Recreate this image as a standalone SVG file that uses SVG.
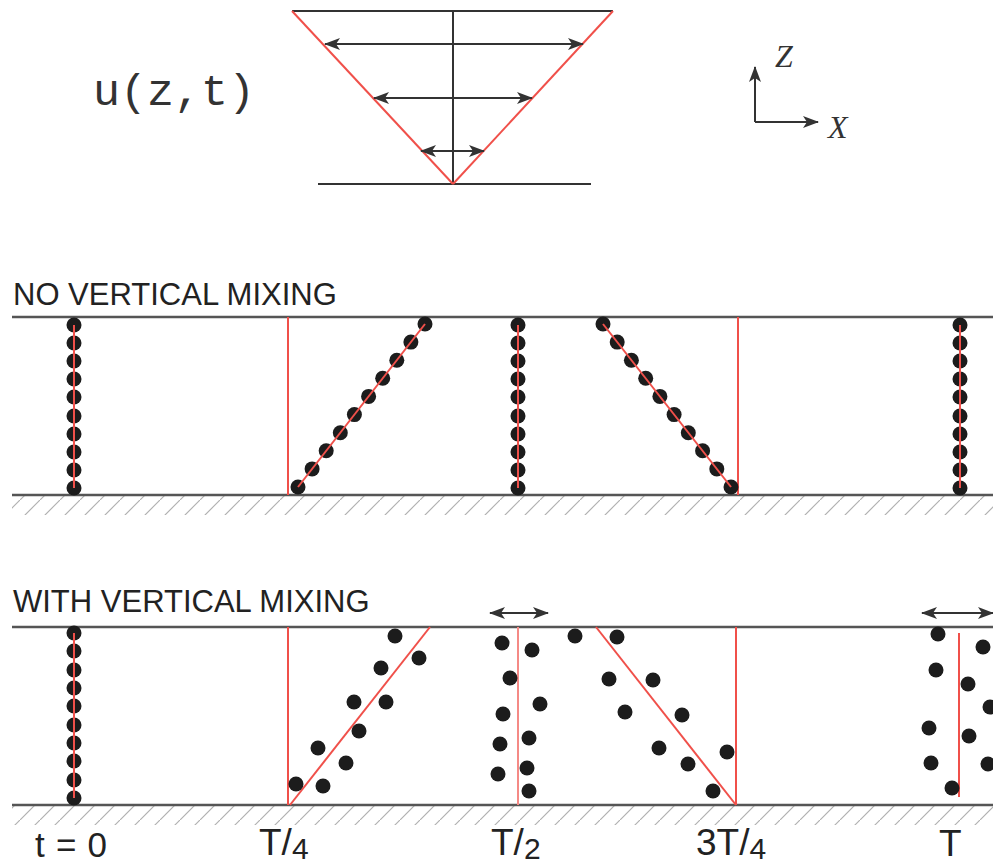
<svg xmlns="http://www.w3.org/2000/svg" width="993" height="867" viewBox="0 0 993 867">
<style>
.blk{stroke:#333;stroke-width:2;fill:none}
.bar{stroke:#555;stroke-width:2.5;fill:none}
.red{stroke:#f0504a;stroke-width:2;fill:none}
.redl{stroke:#f58a86;stroke-width:2;fill:none}
.d{fill:#1c1c1c}
.lab{font-family:"Liberation Sans",Arial,sans-serif;fill:#222}
.hdr{font-family:"Liberation Sans",Arial,sans-serif;font-size:31px;fill:#222}
.ax{font-family:"Liberation Serif","Times New Roman",serif;font-style:italic;font-size:32px;fill:#333}
</style>
<defs>
<marker id="ah" viewBox="0 0 16 12" refX="15" refY="6" markerWidth="16" markerHeight="12" markerUnits="userSpaceOnUse" orient="auto-start-reverse">
<path d="M0,0 L16,6 L0,12 L4,6 z" fill="#333"/>
</marker>
<pattern id="hatch" patternUnits="userSpaceOnUse" width="20" height="20">
<line x1="0" y1="20" x2="20" y2="0" stroke="#b0b0b0" stroke-width="1.2"/>
</pattern>
</defs>

<g id="velocity-profile">
<line class="blk" x1="292" y1="11" x2="613" y2="11"/>
<line class="blk" x1="453" y1="11" x2="453" y2="184"/>
<line class="blk" x1="318" y1="184" x2="591" y2="184"/>
<line class="red" x1="292" y1="11" x2="453" y2="184"/>
<line class="red" x1="613" y1="11" x2="453" y2="184"/>
<line class="blk" x1="325" y1="44" x2="583" y2="44" marker-start="url(#ah)" marker-end="url(#ah)"/>
<line class="blk" x1="374" y1="98" x2="532" y2="98" marker-start="url(#ah)" marker-end="url(#ah)"/>
<line class="blk" x1="421" y1="151" x2="484" y2="151" marker-start="url(#ah)" marker-end="url(#ah)"/>
<text x="93" y="105" font-family="Liberation Mono,'Courier New',monospace" font-size="45" fill="#333">u(z,t)</text>
</g>

<g id="axes">
<line class="blk" x1="755" y1="122" x2="755" y2="67" marker-end="url(#ah)"/>
<line class="blk" x1="755" y1="122" x2="818" y2="122" marker-end="url(#ah)"/>
<text class="ax" x="775" y="67">Z</text>
<text class="ax" x="828" y="138">X</text>
</g>

<g id="panel-no-mixing">
<text class="hdr" x="13" y="305">NO VERTICAL MIXING</text>
<line class="bar" x1="12" y1="317" x2="993" y2="317"/>
<rect x="12" y="496" width="981" height="19" fill="url(#hatch)"/>
<line class="bar" x1="12" y1="495" x2="993" y2="495"/>
<g id="n0">
<g class="d"><circle cx="74" cy="325" r="7.5"/><circle cx="74" cy="343" r="7.5"/><circle cx="74" cy="361" r="7.5"/><circle cx="74" cy="379" r="7.5"/><circle cx="74" cy="397" r="7.5"/><circle cx="74" cy="416" r="7.5"/><circle cx="74" cy="434" r="7.5"/><circle cx="74" cy="452" r="7.5"/><circle cx="74" cy="470" r="7.5"/><circle cx="74" cy="488" r="7.5"/></g>
<line class="red" x1="74" y1="325" x2="74" y2="488"/>
</g>
<g id="n1">
<line class="red" x1="288" y1="317" x2="288" y2="495"/>
<g class="d"><circle cx="298" cy="487" r="7.5"/><circle cx="312.1" cy="468.9" r="7.5"/><circle cx="326.2" cy="450.8" r="7.5"/><circle cx="340.3" cy="432.7" r="7.5"/><circle cx="354.4" cy="414.6" r="7.5"/><circle cx="368.6" cy="396.4" r="7.5"/><circle cx="382.7" cy="378.3" r="7.5"/><circle cx="396.8" cy="360.2" r="7.5"/><circle cx="410.9" cy="342.1" r="7.5"/><circle cx="425" cy="324" r="7.5"/></g>
<line class="red" x1="298" y1="487" x2="425" y2="324"/>
</g>
<g id="n2">
<g class="d"><circle cx="518" cy="325" r="7.5"/><circle cx="518" cy="343" r="7.5"/><circle cx="518" cy="361" r="7.5"/><circle cx="518" cy="379" r="7.5"/><circle cx="518" cy="397" r="7.5"/><circle cx="518" cy="416" r="7.5"/><circle cx="518" cy="434" r="7.5"/><circle cx="518" cy="452" r="7.5"/><circle cx="518" cy="470" r="7.5"/><circle cx="518" cy="488" r="7.5"/></g>
<line class="red" x1="518" y1="325" x2="518" y2="488"/>
</g>
<g id="n3">
<line class="red" x1="738" y1="317" x2="738" y2="495"/>
<g class="d"><circle cx="603" cy="324" r="7.5"/><circle cx="617.2" cy="342.1" r="7.5"/><circle cx="631.4" cy="360.2" r="7.5"/><circle cx="645.7" cy="378.3" r="7.5"/><circle cx="659.9" cy="396.4" r="7.5"/><circle cx="674.1" cy="414.6" r="7.5"/><circle cx="688.3" cy="432.7" r="7.5"/><circle cx="702.6" cy="450.8" r="7.5"/><circle cx="716.8" cy="468.9" r="7.5"/><circle cx="731" cy="487" r="7.5"/></g>
<line class="red" x1="603" y1="324" x2="731" y2="487"/>
</g>
<g id="n4">
<g class="d"><circle cx="960" cy="325" r="7.5"/><circle cx="960" cy="343" r="7.5"/><circle cx="960" cy="361" r="7.5"/><circle cx="960" cy="379" r="7.5"/><circle cx="960" cy="397" r="7.5"/><circle cx="960" cy="416" r="7.5"/><circle cx="960" cy="434" r="7.5"/><circle cx="960" cy="452" r="7.5"/><circle cx="960" cy="470" r="7.5"/><circle cx="960" cy="488" r="7.5"/></g>
<line class="red" x1="960" y1="325" x2="960" y2="488"/>
</g>
</g>

<g id="panel-with-mixing">
<text class="hdr" x="13" y="612">WITH VERTICAL MIXING</text>
<line class="bar" x1="12" y1="627" x2="993" y2="627"/>
<rect x="12" y="806" width="981" height="19" fill="url(#hatch)"/>
<line class="bar" x1="12" y1="805" x2="993" y2="805"/>
<g id="m0">
<g class="d"><circle cx="74" cy="633" r="7.5"/><circle cx="74" cy="651" r="7.5"/><circle cx="74" cy="670" r="7.5"/><circle cx="74" cy="688" r="7.5"/><circle cx="74" cy="706" r="7.5"/><circle cx="74" cy="725" r="7.5"/><circle cx="74" cy="743" r="7.5"/><circle cx="74" cy="761" r="7.5"/><circle cx="74" cy="780" r="7.5"/><circle cx="74" cy="798" r="7.5"/></g>
<line class="red" x1="74" y1="633" x2="74" y2="798"/>
</g>
<g id="m1">
<line class="red" x1="288" y1="627" x2="288" y2="805"/>
<line class="red" x1="290" y1="805" x2="430" y2="627"/>
<g class="d"><circle cx="395" cy="636" r="7.5"/><circle cx="419" cy="658" r="7.5"/><circle cx="381" cy="668" r="7.5"/><circle cx="354" cy="702" r="7.5"/><circle cx="386" cy="702" r="7.5"/><circle cx="359" cy="731" r="7.5"/><circle cx="318" cy="748" r="7.5"/><circle cx="346" cy="763" r="7.5"/><circle cx="296" cy="784" r="7.5"/><circle cx="323" cy="786" r="7.5"/></g>
</g>
<g id="m2">
<line class="blk" x1="490" y1="613" x2="548" y2="613" marker-start="url(#ah)" marker-end="url(#ah)"/>
<line class="redl" x1="518" y1="627" x2="518" y2="805"/>
<g class="d"><circle cx="502" cy="643" r="7.5"/><circle cx="532" cy="650" r="7.5"/><circle cx="510" cy="678" r="7.5"/><circle cx="540" cy="704" r="7.5"/><circle cx="503" cy="714" r="7.5"/><circle cx="529" cy="738" r="7.5"/><circle cx="500" cy="744" r="7.5"/><circle cx="527" cy="768" r="7.5"/><circle cx="498" cy="774" r="7.5"/><circle cx="529" cy="791" r="7.5"/></g>
</g>
<g id="m3">
<line class="red" x1="596" y1="627" x2="736" y2="805"/>
<line class="red" x1="736" y1="627" x2="736" y2="805"/>
<g class="d"><circle cx="575" cy="636" r="7.5"/><circle cx="617" cy="637" r="7.5"/><circle cx="609" cy="679" r="7.5"/><circle cx="653" cy="680" r="7.5"/><circle cx="625" cy="712" r="7.5"/><circle cx="682" cy="715" r="7.5"/><circle cx="659" cy="748" r="7.5"/><circle cx="727" cy="752" r="7.5"/><circle cx="688" cy="764" r="7.5"/><circle cx="713" cy="791" r="7.5"/></g>
</g>
<g id="m4">
<line class="blk" x1="922" y1="613" x2="993" y2="613" marker-start="url(#ah)" marker-end="url(#ah)"/>
<line class="red" x1="959" y1="633" x2="959" y2="797"/>
<g class="d"><circle cx="938" cy="634" r="7.5"/><circle cx="983" cy="647" r="7.5"/><circle cx="936" cy="670" r="7.5"/><circle cx="968" cy="684" r="7.5"/><circle cx="990" cy="707" r="7.5"/><circle cx="929" cy="728" r="7.5"/><circle cx="969" cy="736" r="7.5"/><circle cx="931" cy="763" r="7.5"/><circle cx="988" cy="764" r="7.5"/><circle cx="952" cy="788" r="7.5"/></g>
</g>
</g>

<g id="time-labels" class="lab">
<text x="35" y="857" font-size="35" textLength="72" lengthAdjust="spacing">t=0</text>
<text x="259" y="855" font-size="37">T/<tspan font-size="30" dy="4">4</tspan></text>
<text x="491" y="855" font-size="37">T/<tspan font-size="30" dy="4">2</tspan></text>
<text x="696" y="855" font-size="37">3T/<tspan font-size="30" dy="4">4</tspan></text>
<text x="939" y="856" font-size="37">T</text>
</g>
</svg>
